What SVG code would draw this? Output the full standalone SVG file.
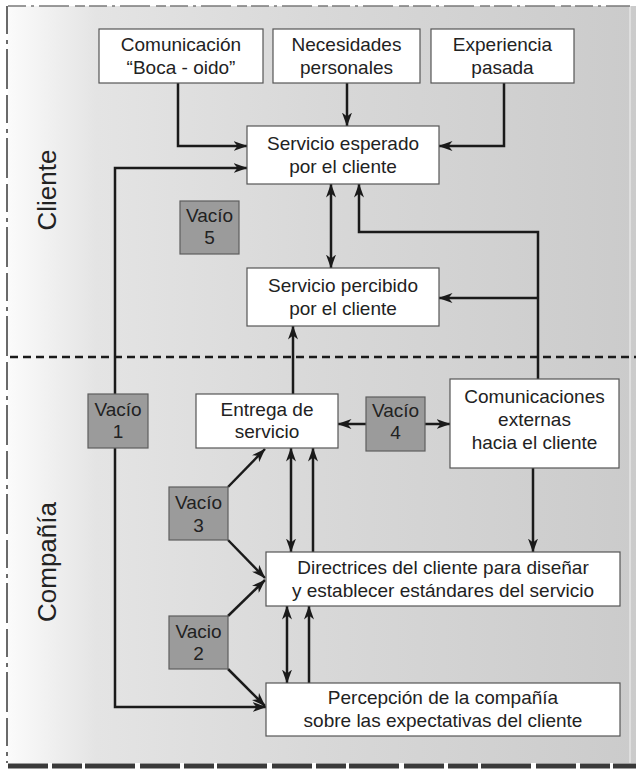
<svg xmlns="http://www.w3.org/2000/svg" width="636" height="769" viewBox="0 0 636 769">
<defs>
<linearGradient id="bg" gradientUnits="userSpaceOnUse" x1="8" y1="0" x2="636" y2="0">
<stop offset="0" stop-color="#fbfbfb"/>
<stop offset="0.14" stop-color="#e4e4e4"/>
<stop offset="0.5" stop-color="#d8d8d8"/>
<stop offset="1" stop-color="#cbcbcb"/>
</linearGradient>
<marker id="ah" viewBox="0 0 14 10" refX="13.5" refY="5" markerWidth="14" markerHeight="10" markerUnits="userSpaceOnUse" orient="auto-start-reverse">
<path d="M0,0 L14,5 L0,10 L4,5 z" fill="#1a1a1a"/>
</marker>
<style>
.box{fill:#ffffff;stroke:#555555;stroke-width:1.2}
.gap{fill:#9b9b9b;stroke:#5e5e5e;stroke-width:1.2}
.t{font-family:"Liberation Sans",Arial,sans-serif;font-size:19px;fill:#222222;text-anchor:middle}
.side{font-family:"Liberation Sans",Arial,sans-serif;font-size:26px;fill:#222222;text-anchor:middle}
.c{fill:none;stroke:#1a1a1a;stroke-width:2.5}
.e{marker-end:url(#ah)}
.b{marker-start:url(#ah);marker-end:url(#ah)}
</style>
</defs>
<rect x="0" y="0" width="636" height="769" fill="#ffffff"/>
<rect x="8" y="6" width="628" height="757" fill="url(#bg)"/>
<line x1="630" y1="6" x2="630" y2="763" stroke="#e4e4e4" stroke-width="1.5"/>
<line x1="8" y1="6" x2="630" y2="6" stroke="#7a7a7a" stroke-width="1.5" stroke-dasharray="18 5 3 5 30 6 10 4"/>
<line x1="7" y1="6" x2="7" y2="763" stroke="#6a6a6a" stroke-width="2" stroke-dasharray="28 6 4 5 40 6"/>
<line x1="8" y1="766" x2="636" y2="766" stroke="#3a3a3a" stroke-width="5" stroke-dasharray="40 4 30 3 50 5"/>
<line x1="10" y1="357" x2="636" y2="357" stroke="#1a1a1a" stroke-width="2.5" stroke-dasharray="8 5"/>
<text class="side" transform="translate(56,190) rotate(-90)">Cliente</text>
<text class="side" transform="translate(56,562) rotate(-90)">Compañía</text>
<g id="connectors">
<path class="c e" d="M178,83 V146 H247"/>
<path class="c e" d="M347,83 V126"/>
<path class="c e" d="M504,83 V146 H439"/>
<path class="c e" d="M115,394 V168 H247"/>
<path class="c e" d="M115,448 V707 H266"/>
<path class="c b" d="M331,184 V268"/>
<path class="c e" d="M538,379 V232 H359 V184"/>
<path class="c e" d="M538,298 H439"/>
<path class="c e" d="M293,394 V326"/>
<path class="c e" d="M366,424 H338"/>
<path class="c e" d="M425,424 H450"/>
<path class="c e" d="M533,468 V552"/>
<path class="c b" d="M291,448 V552"/>
<path class="c e" d="M313,552 V448"/>
<path class="c b" d="M287,606 V683"/>
<path class="c e" d="M309,683 V606"/>
<path class="c e" d="M228,487 L265,449"/>
<path class="c e" d="M228,540 L265,578"/>
<path class="c e" d="M228,616 L265,580"/>
<path class="c e" d="M228,669 L265,706"/>
</g>
<g id="comunicacion">
<rect class="box" x="99" y="29" width="164" height="54"/>
<text class="t" x="181" y="51">Comunicación</text>
<text class="t" x="181" y="74">“Boca - oido”</text>
</g>
<g id="necesidades">
<rect class="box" x="273" y="29" width="147" height="54"/>
<text class="t" x="346.5" y="51">Necesidades</text>
<text class="t" x="346.5" y="74">personales</text>
</g>
<g id="experiencia">
<rect class="box" x="431" y="29" width="143" height="54"/>
<text class="t" x="502.5" y="51">Experiencia</text>
<text class="t" x="502.5" y="74">pasada</text>
</g>
<g id="servicio-esperado">
<rect class="box" x="247" y="126" width="192" height="58"/>
<text class="t" x="343" y="150">Servicio esperado</text>
<text class="t" x="343" y="173">por el cliente</text>
</g>
<g id="vacio5">
<rect class="gap" x="180" y="201" width="59" height="53"/>
<text class="t" x="209.5" y="222">Vacío</text>
<text class="t" x="209.5" y="244">5</text>
</g>
<g id="servicio-percibido">
<rect class="box" x="247" y="268" width="192" height="58"/>
<text class="t" x="343" y="292">Servicio percibido</text>
<text class="t" x="343" y="315">por el cliente</text>
</g>
<g id="vacio1">
<rect class="gap" x="88" y="394" width="60" height="54"/>
<text class="t" x="118" y="416">Vacío</text>
<text class="t" x="118" y="438">1</text>
</g>
<g id="entrega">
<rect class="box" x="196" y="394" width="142" height="54"/>
<text class="t" x="267" y="416">Entrega de</text>
<text class="t" x="267" y="438">servicio</text>
</g>
<g id="vacio4">
<rect class="gap" x="366" y="397" width="59" height="54"/>
<text class="t" x="395.5" y="417">Vacío</text>
<text class="t" x="395.5" y="439">4</text>
</g>
<g id="comunicaciones-externas">
<rect class="box" x="450" y="379" width="169" height="89"/>
<text class="t" x="534.5" y="403">Comunicaciones</text>
<text class="t" x="534.5" y="426">externas</text>
<text class="t" x="534.5" y="449">hacia el cliente</text>
</g>
<g id="vacio3">
<rect class="gap" x="169" y="487" width="59" height="53"/>
<text class="t" x="198.5" y="509">Vacío</text>
<text class="t" x="198.5" y="532">3</text>
</g>
<g id="directrices">
<rect class="box" x="266" y="552" width="354" height="54"/>
<text class="t" x="443" y="574">Directrices del cliente para diseñar</text>
<text class="t" x="443" y="597">y establecer estándares del servicio</text>
</g>
<g id="vacio2">
<rect class="gap" x="169" y="616" width="59" height="53"/>
<text class="t" x="198.5" y="638">Vacio</text>
<text class="t" x="198.5" y="660">2</text>
</g>
<g id="percepcion">
<rect class="box" x="266" y="683" width="354" height="53"/>
<text class="t" x="443" y="704">Percepción de la compañía</text>
<text class="t" x="443" y="727">sobre las expectativas del cliente</text>
</g>
</svg>
